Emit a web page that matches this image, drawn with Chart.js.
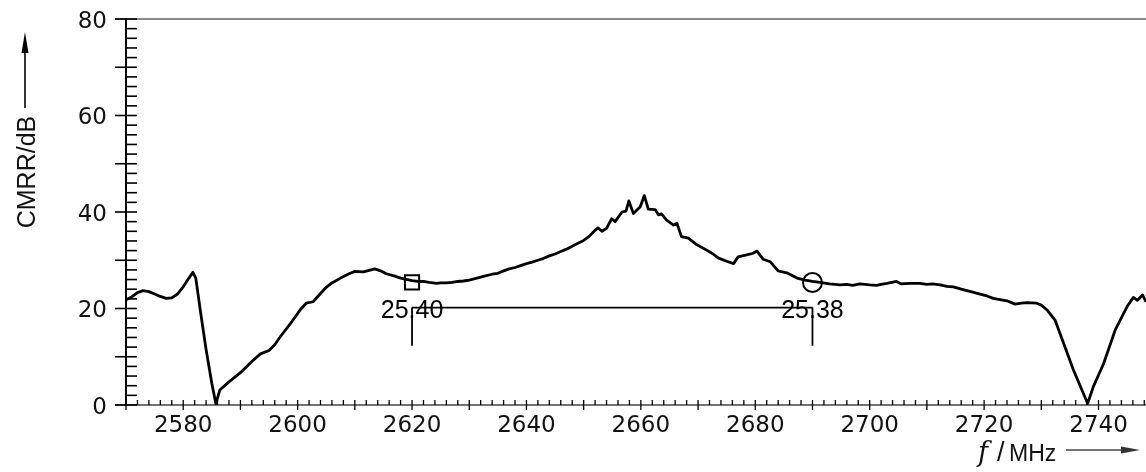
<!DOCTYPE html>
<html><head><meta charset="utf-8">
<script src="https://cdn.jsdelivr.net/npm/chart.js@4"></script>
<style>html,body{margin:0;padding:0;background:#fff;overflow:hidden}#wrap{width:1146px;height:472px;position:relative}canvas{display:block}</style>
</head><body><div id="wrap"><canvas id="c"></canvas></div>
<script>
// ---- data ----
const freqMHz = [
  2570,2571,2572,2573,2574,2575,2576,2577,2578,2579,2580,2581,2581.7,2582.2,2583,2584,2585,2585.7,2586.4,2588,
  2590,2592,2593.5,2595,2596,2597,2599,2600.5,2601.5,2602.7,2604,2605,2606,2607.5,2609,2610,2611.5,2612.5,2613.5,2614.5,
  2615.5,2617,2618,2620,2621,2622,2623,2624.3,2625,2626,2627,2628,2629,2630,2631,2632,2633,2634,2635,2636,
  2637,2638,2639,2640,2641,2642,2643,2644,2645,2646,2647,2648,2649,2650,2651,2652,2652.5,2653.2,2654,2654.9,
  2655.5,2656.7,2657.4,2657.9,2658.7,2659.9,2660.6,2661.3,2662.5,2663.1,2663.6,2664.5,2665.7,2666.3,2667.1,2668.3,2669.8,2671.5,2672.5,2673.5,
  2675,2676.2,2677,2678.5,2679.5,2680.3,2681.4,2682.6,2684,2685.5,2687.3,2688.7,2690,2691.3,2693,2694.8,2696,2697,2698.3,2700,
  2701.2,2702,2703,2704.7,2705.5,2707,2708.8,2710,2711,2712.3,2713.5,2714.6,2716,2717,2718,2719.3,2720.5,2721.6,2723,2724,
  2725.4,2726.5,2727.5,2729.2,2730,2731,2732.4,2733.9,2735.6,2737.1,2738.1,2739.1,2740.9,2742.9,2745,2746.1,2746.8,2747.7,2748.3
];
const cmrrDb = [
  21.8,22.4,23.3,23.7,23.5,23.0,22.5,22.1,22.2,23.0,24.5,26.3,27.5,26.3,19.5,11.5,4.5,0.3,3.1,4.8,
  6.7,9.0,10.6,11.3,12.5,14.2,17.3,19.8,21.1,21.4,23.1,24.4,25.3,26.3,27.2,27.7,27.6,27.9,28.2,27.8,
  27.2,26.7,26.3,25.8,25.6,25.6,25.4,25.2,25.3,25.3,25.4,25.6,25.7,25.9,26.2,26.5,26.8,27.1,27.3,27.8,
  28.2,28.5,28.9,29.3,29.6,30.0,30.4,30.9,31.3,31.8,32.3,32.9,33.5,34.1,35.0,36.2,36.7,36.0,36.6,38.6,
  38.0,40.0,40.2,42.3,39.7,41.1,43.4,40.6,40.5,39.4,39.6,38.3,37.3,37.7,34.9,34.6,33.2,32.1,31.4,30.5,
  29.8,29.3,30.7,31.1,31.4,31.9,30.2,29.7,27.8,27.4,26.3,25.9,25.6,25.4,25.1,24.9,25.0,24.8,25.1,24.9,
  24.8,25.0,25.2,25.6,25.1,25.2,25.2,25.0,25.1,24.9,24.6,24.5,24.0,23.7,23.4,23.0,22.6,22.1,21.8,21.6,
  20.9,21.1,21.2,21.1,20.7,19.7,17.6,12.8,7.3,3.1,0.3,3.8,8.6,15.5,20.4,22.3,21.7,22.8,21.4
];
const xTickLabels = [2580,2600,2620,2640,2660,2680,2700,2720,2740];
const yTickLabels = [0,20,40,60,80];
const markerFreqs = [2620, 2690];
const markerValues = [25.40, 25.38];
const bracketLevel = 20.2;
const bracketFoot = 12.3;
const markerTextLevel = 19.4;
const xRange = [2570, 2748.3];
const yRange = [0, 80];

// ---- chart ----
const curve = freqMHz.map((f, i) => ({x: f, y: cmrrDb[i]}));
const seg = (a, b) => ({data: [a, b], borderColor: '#000', borderWidth: 1.8, pointRadius: 0, tension: 0});

function line(ctx, x1, y1, x2, y2) { ctx.beginPath(); ctx.moveTo(x1, y1); ctx.lineTo(x2, y2); ctx.stroke(); }
function noPad(s) { s.paddingLeft = 0; s.paddingRight = 0; s.paddingTop = 0; s.paddingBottom = 0; }

const deco = {
  id: 'deco',
  beforeDatasetsDraw(chart) {
    const {ctx, chartArea: a, scales: {x, y}} = chart;
    ctx.save();
    ctx.lineCap = 'butt';
    ctx.strokeStyle = '#8a8a8a'; ctx.lineWidth = 2;
    line(ctx, a.left - 11, a.top, chart.width, a.top);
    ctx.strokeStyle = '#444'; ctx.lineWidth = 1.6;
    line(ctx, a.left - 11, a.bottom, chart.width, a.bottom);
    ctx.strokeStyle = '#000'; ctx.lineWidth = 2;
    line(ctx, a.left, a.top, a.left, a.bottom);
    ctx.lineWidth = 1.6;
    for (let v = yRange[0]; v <= yRange[1]; v += 2) {
      const py = y.getPixelForValue(v);
      if (v % 10 === 0) line(ctx, a.left - 11, py, a.left + 11, py);
      else line(ctx, a.left, py, a.left + 11, py);
    }
    ctx.lineWidth = 1.3;
    for (let f = xRange[0]; f <= xRange[1]; f += 2) {
      const px = x.getPixelForValue(f);
      if (f % 10 === 0) line(ctx, px, a.bottom - 5, px, a.bottom + 5);
      else line(ctx, px, a.bottom - 5, px, a.bottom);
    }
    // tick labels
    ctx.fillStyle = '#111';
    ctx.font = '23px "DejaVu Sans", sans-serif';
    ctx.textBaseline = 'alphabetic';
    ctx.textAlign = 'center';
    xTickLabels.forEach(v => ctx.fillText(String(v), x.getPixelForValue(v), a.bottom + 27));
    ctx.textAlign = 'right';
    yTickLabels.forEach(v => ctx.fillText(String(v), a.left - 19, y.getPixelForValue(v) + 8.5));
    ctx.restore();
  },
  afterDatasetsDraw(chart) {
    const {ctx, scales: {x, y}} = chart;
    ctx.save();
    ctx.fillStyle = '#000';
    ctx.font = '25px "Liberation Sans", Arial, sans-serif';
    ctx.textAlign = 'center'; ctx.textBaseline = 'middle';
    markerFreqs.forEach((f, i) => {
      ctx.fillText(markerValues[i].toFixed(2), x.getPixelForValue(f), y.getPixelForValue(markerTextLevel));
    });
    // y title
    ctx.save();
    ctx.translate(35, 172);
    ctx.rotate(-Math.PI / 2);
    ctx.textAlign = 'center'; ctx.textBaseline = 'alphabetic';
    ctx.fillStyle = '#111';
    ctx.font = '25px "Liberation Sans", Arial, sans-serif';
    ctx.fillText('CMRR/dB', 0, 0);
    ctx.restore();
    ctx.strokeStyle = '#000'; ctx.lineWidth = 1.6;
    line(ctx, 25, 108, 25, 48);
    ctx.beginPath(); ctx.moveTo(25, 32); ctx.lineTo(21.5, 53); ctx.lineTo(28.5, 53); ctx.closePath(); ctx.fill();
    // x title
    ctx.textAlign = 'left'; ctx.textBaseline = 'alphabetic';
    ctx.fillStyle = '#111';
    ctx.font = 'italic 27px "DejaVu Serif", "Liberation Serif", serif';
    ctx.fillText('f', 978, 461);
    ctx.font = '27px "Liberation Sans", Arial, sans-serif';
    ctx.fillText('/', 997, 461);
    ctx.font = '23px "Liberation Sans", Arial, sans-serif';
    ctx.fillText('MHz', 1009, 461);
    ctx.strokeStyle = '#444'; ctx.lineWidth = 1.5;
    line(ctx, 1066, 450, 1125, 450);
    ctx.fillStyle = '#333';
    ctx.beginPath(); ctx.moveTo(1140, 450); ctx.lineTo(1121, 446.5); ctx.lineTo(1121, 453.5); ctx.closePath(); ctx.fill();
    ctx.restore();
  }
};

new Chart(document.getElementById('c'), {
  type: 'line',
  data: {
    datasets: [
      {data: curve, borderColor: '#000', borderWidth: 2.8, pointRadius: 0, tension: 0, borderJoinStyle: 'round'},
      seg({x: markerFreqs[0], y: bracketLevel}, {x: markerFreqs[1], y: bracketLevel}),
      seg({x: markerFreqs[0], y: bracketLevel}, {x: markerFreqs[0], y: bracketFoot}),
      seg({x: markerFreqs[1], y: bracketLevel}, {x: markerFreqs[1], y: bracketFoot}),
      {type: 'scatter', data: [{x: markerFreqs[0], y: markerValues[0]}], pointStyle: 'rect', pointRadius: 10,
       borderColor: '#000', backgroundColor: 'rgba(0,0,0,0)', borderWidth: 2},
      {type: 'scatter', data: [{x: markerFreqs[1], y: markerValues[1]}], pointStyle: 'circle', pointRadius: 9.5,
       borderColor: '#000', backgroundColor: 'rgba(0,0,0,0)', borderWidth: 2}
    ]
  },
  options: {
    responsive: true, maintainAspectRatio: false, animation: false, events: [],
    layout: {autoPadding: false, padding: {top: 19, right: 0, left: 0, bottom: 0}},
    plugins: {legend: {display: false}, tooltip: {enabled: false}},
    scales: {
      x: {
        type: 'linear', min: xRange[0], max: xRange[1],
        grid: {display: false, drawTicks: false}, border: {display: false},
        ticks: {display: false},
        afterFit: s => { s.height = 67; noPad(s); }
      },
      y: {
        type: 'linear', min: yRange[0], max: yRange[1],
        grid: {display: false, drawTicks: false}, border: {display: false},
        ticks: {display: false},
        afterFit: s => { s.width = 126; noPad(s); }
      }
    }
  },
  plugins: [deco]
});
</script>
</body></html>
